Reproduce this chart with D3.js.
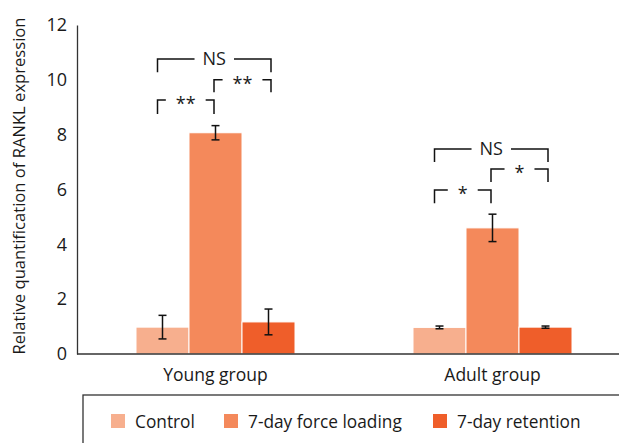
<!DOCTYPE html>
<html>
<head>
<meta charset="utf-8">
<script src="https://cdn.jsdelivr.net/npm/d3@7"></script>
<style>
  body { margin: 0; background: #fff; }
  text { font-family: "Open Sans", "DejaVu Sans", sans-serif; fill: #1a1a1a; }
</style>
</head>
<body>
<div id="chart"></div>
<script>
let groups = ["Young group", "Adult group"];
let series = ["Control", "7-day force loading", "7-day retention"];
let colors = ["#f7af8e", "#f4895b", "#ef5e2a"];
let means = [[0.98, 8.07, 1.17], [0.97, 4.6, 0.98]];
let errors = [[0.43, 0.26, 0.47], [0.05, 0.5, 0.04]];
let yTicks = [0, 2, 4, 6, 8, 10, 12];
// significance brackets: group, from bar, to bar, line level, drop level, label
let brackets = [
    [0, 0, 2, 10.76, 10.28, "NS"],
    [0, 0, 1, 9.26, 8.75, "**"],
    [0, 1, 2, 10.0, 9.55, "**"],
    [1, 0, 2, 7.48, 7.0, "NS"],
    [1, 0, 1, 5.98, 5.5, "*"],
    [1, 1, 2, 6.75, 6.27, "*"]
];

function renderChart(element, width, height) {
    d3.select(element).selectAll('*').remove();

    let svg = d3.select(element).append('svg')
        .attr('width', width)
        .attr('height', height);

    let left = 77, bottom = 354, top = 25;

    let x0 = d3.scaleBand().domain(groups).range([left, 631]).paddingInner(0).paddingOuter(0);
    let x1 = d3.scaleBand().domain(series).range([0, 159]);
    let off = (x0.bandwidth() - 159) / 2;
    let y = d3.scaleLinear().domain([0, 12]).range([bottom, top]);

    function barX(g, s) { return x0(groups[g]) + off + x1(series[s]); }
    function barC(g, s) { return barX(g, s) + x1.bandwidth() / 2; }

    //bars
    let gBars = svg.append("g");
    groups.forEach(function (gName, gi) {
        series.forEach(function (sName, si) {
            gBars.append("rect")
                .attr("x", barX(gi, si))
                .attr("y", y(means[gi][si]))
                .attr("width", x1.bandwidth())
                .attr("height", y(0) - y(means[gi][si]))
                .attr("fill", colors[si])
                .attr("stroke", "#fff")
                .attr("stroke-width", 1);
        });
    });

    //error bars
    let gErr = svg.append("g").attr("stroke", "#111").attr("stroke-width", 1.5);
    groups.forEach(function (gName, gi) {
        series.forEach(function (sName, si) {
            let cx = barC(gi, si), m = means[gi][si], e = errors[gi][si];
            gErr.append("line").attr("x1", cx).attr("x2", cx).attr("y1", y(m + e)).attr("y2", y(m - e));
            gErr.append("line").attr("x1", cx - 4).attr("x2", cx + 4).attr("y1", y(m + e)).attr("y2", y(m + e));
            gErr.append("line").attr("x1", cx - 4).attr("x2", cx + 4).attr("y1", y(m - e)).attr("y2", y(m - e));
        });
    });

    //axes
    let yAxis = svg.append("g")
        .attr("transform", "translate(" + left + ",0)")
        .call(d3.axisLeft(y).tickValues(yTicks).tickSize(0).tickPadding(10));
    yAxis.select(".domain").attr("stroke", "#333").attr("stroke-width", 1.3);
    yAxis.selectAll("text").attr("font-size", 18).attr("fill", "#1a1a1a")
        .style("font-family", '"Open Sans", sans-serif');

    svg.append("line")
        .attr("x1", left).attr("x2", width)
        .attr("y1", bottom).attr("y2", bottom)
        .attr("stroke", "#333").attr("stroke-width", 1.3);

    svg.append("g").selectAll("text")
        .data(groups)
        .enter().append("text")
        .attr("x", function (d) { return x0(d) + x0.bandwidth() / 2; })
        .attr("y", 381)
        .attr("text-anchor", "middle")
        .attr("font-size", 17.5)
        .text(function (d) { return d; });

    svg.append("text")
        .attr("transform", "translate(25," + 186 + ") rotate(-90)")
        .attr("text-anchor", "middle")
        .attr("font-size", 16.6)
        .text("Relative quantification of RANKL expression");

    //significance brackets
    let gSig = svg.append("g");
    brackets.forEach(function (b) {
        let xa = barC(b[0], b[1]) - (b[1] == 0 ? 5 : 1.5);
        let xb = barC(b[0], b[2]) + (b[2] == 2 ? 2.5 : -1.5);
        let yl = y(b[3]), yd = y(b[4]);
        let isNS = b[5] == "NS";
        let t = gSig.append("text")
            .attr("x", (xa + xb) / 2)
            .attr("y", isNS ? yl + 6.5 : yl + 10)
            .attr("text-anchor", "middle")
            .attr("font-size", isNS ? 18 : 18)
            .text(b[5]);
        let w = t.node().getComputedTextLength();
        let gap = w / 2 + (isNS ? 8 : 10);
        let mid = (xa + xb) / 2;
        gSig.append("path")
            .attr("d", "M" + xa + "," + yd + "V" + yl + "H" + (mid - gap))
            .attr("fill", "none").attr("stroke", "#111").attr("stroke-width", 1.5);
        gSig.append("path")
            .attr("d", "M" + (mid + gap) + "," + yl + "H" + xb + "V" + yd)
            .attr("fill", "none").attr("stroke", "#111").attr("stroke-width", 1.5);
    });

    //legend
    let leg = svg.append("g");
    leg.append("rect")
        .attr("x", 83).attr("y", 395)
        .attr("width", 560).attr("height", 80)
        .attr("fill", "none").attr("stroke", "#333").attr("stroke-width", 1.3);
    let legX = [111, 224, 433];
    series.forEach(function (s, i) {
        leg.append("rect")
            .attr("x", legX[i]).attr("y", 414)
            .attr("width", 14).attr("height", 14)
            .attr("fill", colors[i]);
        leg.append("text")
            .attr("x", legX[i] + 24).attr("y", 427.5)
            .attr("font-size", 17.3)
            .text(s);
    });
}

renderChart("#chart", 619, 443);
</script>
</body>
</html>
